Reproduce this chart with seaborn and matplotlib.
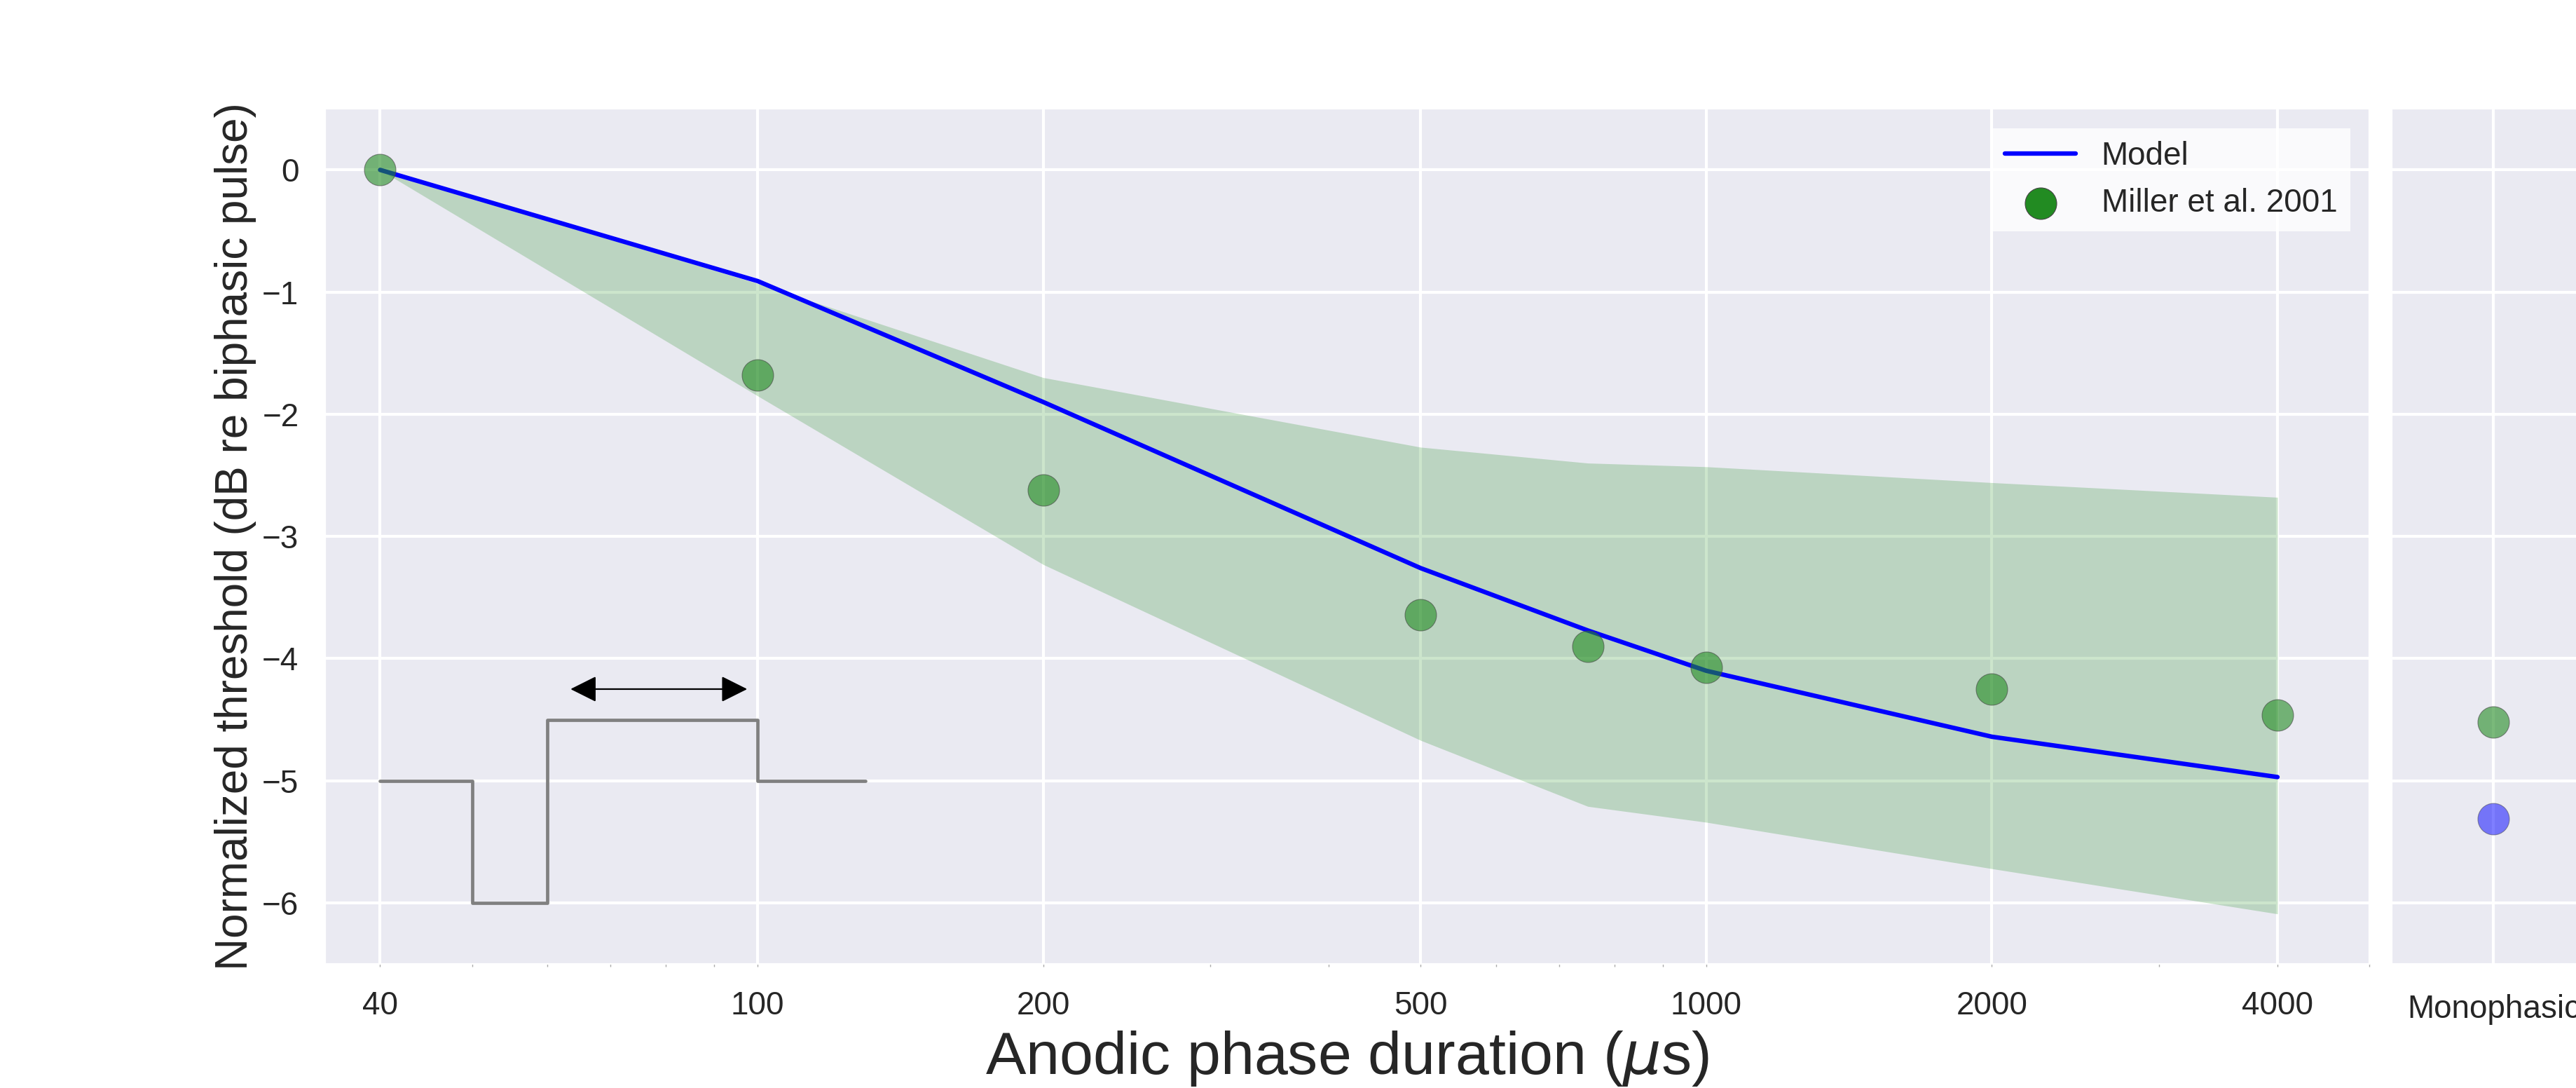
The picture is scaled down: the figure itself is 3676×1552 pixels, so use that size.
import numpy as np
import pandas as pd
import matplotlib
matplotlib.use('Agg')
import matplotlib.pyplot as plt
import seaborn as sns

# anodic phase durations (us)
durations = [40, 100, 200, 500, 750, 1000, 2000, 4000]
model_db = [0.0, -0.91, -1.90, -3.26, -3.77, -4.10, -4.64, -4.97]
band_upper = [0.0, -0.93, -1.70, -2.27, -2.40, -2.43, -2.56, -2.68]
band_lower = [0.0, -1.85, -3.23, -4.67, -5.21, -5.34, -5.72, -6.09]
miller_db = [0.0, -1.68, -2.62, -3.64, -3.90, -4.07, -4.25, -4.46]
xtick_vals = [40, 100, 200, 500, 1000, 2000, 4000]

# right panel
mono_label = ['Monophasic']
mono_miller = [-4.52]
mono_model = [-5.31]

# pulse sketch
pulse_x = [40, 50, 50, 60, 60, 100, 100, 130]
pulse_y = [-5, -5, -6, -6, -4.5, -4.5, -5, -5]
arrow_x = [63.5, 97.5]
arrow_y = -4.25

sns.set_style('darkgrid', {'grid.linewidth': 1.5})
plt.rcParams['font.family'] = ['Liberation Sans', 'DejaVu Sans']
plt.rcParams['grid.linewidth'] = 1.5

df = pd.DataFrame({'dur': durations, 'model': model_db, 'miller': miller_db})

fig = plt.figure(figsize=(18.38, 7.76), dpi=200)
ax = fig.add_axes([0.1262, 0.114, 0.7936, 0.786])
ax2 = fig.add_axes([0.9285, 0.114, 0.158, 0.786], sharey=ax)

ax.set_xscale('log')
ax.fill_between(durations, band_lower, band_upper, color='green', alpha=0.2, lw=0)
sns.lineplot(data=df, x='dur', y='model', ax=ax, color='blue', lw=2.3, label='Model')
sns.scatterplot(data=df, x='dur', y='miller', ax=ax, color='forestgreen', alpha=0.6,
                s=262, edgecolor='#444444', linewidth=0.4, label='Miller et al. 2001', zorder=3)

# pulse shape
ax.plot(pulse_x, pulse_y, color='gray', lw=1.7)
ax.annotate('', xy=(arrow_x[1], arrow_y), xytext=(arrow_x[0], arrow_y),
            arrowprops=dict(arrowstyle='<|-|>,head_length=0.58,head_width=0.29',
                            mutation_scale=20, color='k', lw=0.8,
                            shrinkA=0, shrinkB=0))

ax.set_xlim(35, 5000)
ax.set_ylim(-6.5, 0.5)
ax.set_xticks(xtick_vals)
ax.set_xticklabels([str(v) for v in xtick_vals])
ax.tick_params(axis='x', which='both', bottom=True, length=1.5, width=0.5,
               color='#aaaaaa', labelsize=16.5, pad=12)
ax.tick_params(axis='y', labelsize=16.5, pad=10)
ax.set_xlabel(r'Anodic phase duration ($\mu$s)', fontsize=31, labelpad=4)
ax.set_ylabel('Normalized threshold (dB re biphasic pulse)', fontsize=23, labelpad=3)

leg = ax.legend(loc='upper right', fontsize=16.5, frameon=True, facecolor='white',
                framealpha=0.8, fancybox=False, borderaxespad=0.6, handlelength=2.2)
leg.get_frame().set_edgecolor('none')
for h in leg.legend_handles:
    h.set_alpha(1)

# monophasic panel
sns.scatterplot(x=mono_label, y=mono_miller, ax=ax2, color='forestgreen', alpha=0.6,
                s=262, edgecolor='#444444', linewidth=0.4, zorder=3)
sns.scatterplot(x=mono_label, y=mono_model, ax=ax2, color='blue', alpha=0.5,
                s=262, edgecolor='#444444', linewidth=0.4, zorder=3)
ax2.set_xlim(-0.5, 1.5)
ax2.tick_params(axis='y', labelleft=False)
ax2.tick_params(axis='x', labelsize=16.5, pad=12)
ax2.set_xlabel('')
ax2.set_ylabel('')

fig.savefig('out.png', dpi=200)
